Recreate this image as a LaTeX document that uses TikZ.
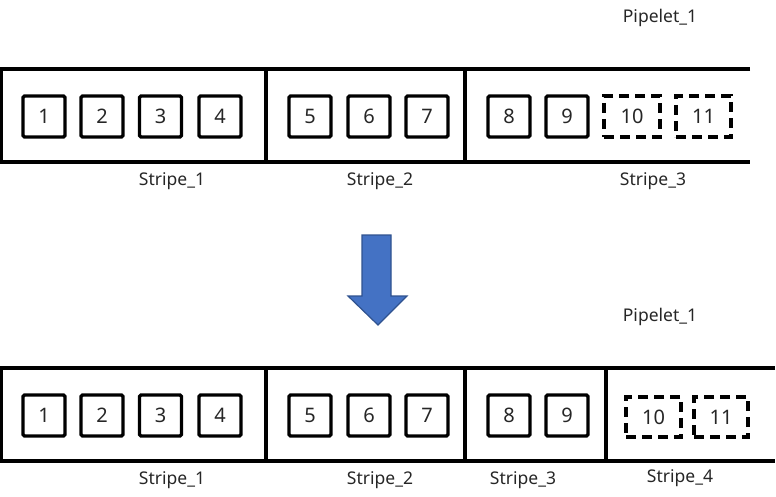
\documentclass[tikz,border=0pt]{standalone}
\usepackage{fontspec}
\setmainfont{Noto Sans}
\definecolor{arrowfill}{HTML}{4472C4}
\definecolor{arrowline}{HTML}{2F528F}
\begin{document}
\begin{tikzpicture}[x=1pt,y=-1pt,
  cell/.style={draw,line width=3.2pt,rounded corners=1.5pt,minimum width=42pt,minimum height=41pt,inner sep=0pt,font=\fontsize{20}{20}\selectfont,text=black!85},
  dcell/.style={cell,dash pattern=on 10pt off 6pt,rounded corners=0pt},
  lbl/.style={font=\fontsize{17.5}{17.5}\selectfont,text=black!85,inner sep=0pt},
  band/.style={line width=3.2pt}]
\useasboundingbox (0,0) rectangle (776,497);
% ---------- top ----------
\draw[band] (750,69) -- (1,69) -- (1,162) -- (750,162);
\draw[band] (266,69) -- (266,162);
\draw[band] (465,69) -- (465,162);
\node[cell] (t1) at (44,116.5) {1};
\node[cell] (t2) at (102,116.5) {2};
\node[cell] (t3) at (160.5,116.5) {3};
\node[cell] (t4) at (220,116.5) {4};
\node[cell] (t5) at (310,116.5) {5};
\node[cell] (t6) at (369,116.5) {6};
\node[cell] (t7) at (427,116.5) {7};
\node[cell] (t8) at (509,116.5) {8};
\node[cell] (t9) at (567,116.5) {9};
\node[dcell,minimum width=56pt] (t10) at (632,116.5) {10};
\node[dcell,minimum width=55pt] (t11) at (703.5,116.5) {11};
\node[lbl] (tp) at (660,18) {Pipelet\_1};
\node[lbl] (ts1) at (172,181) {Stripe\_1};
\node[lbl] (ts2) at (380,181) {Stripe\_2};
\node[lbl] (ts3) at (653,181) {Stripe\_3};
% ---------- arrow ----------
\draw[fill=arrowfill,draw=arrowline,line width=1.2pt,line join=miter]
  (362,235) -- (391,235) -- (391,296) -- (407,296) -- (378,325) -- (348,296) -- (362,296) -- cycle;
% ---------- bottom ----------
\draw[band] (775,368) -- (1,368) -- (1,461) -- (775,461);
\draw[band] (266,368) -- (266,461);
\draw[band] (465,368) -- (465,461);
\draw[band] (606,368) -- (606,461);
\node[cell] (b1) at (44,415.5) {1};
\node[cell] (b2) at (102,415.5) {2};
\node[cell] (b3) at (160.5,415.5) {3};
\node[cell] (b4) at (220,415.5) {4};
\node[cell] (b5) at (310,415.5) {5};
\node[cell] (b6) at (369,415.5) {6};
\node[cell] (b7) at (427,415.5) {7};
\node[cell] (b8) at (509,415.5) {8};
\node[cell] (b9) at (567,415.5) {9};
\node[dcell,minimum width=55pt,minimum height=40pt] (b10) at (653.5,417) {10};
\node[dcell,minimum width=54pt,minimum height=40pt] (b11) at (721,417) {11};
\node[lbl] (bp) at (660,317) {Pipelet\_1};
\node[lbl] (bs1) at (172,480) {Stripe\_1};
\node[lbl] (bs2) at (380,480) {Stripe\_2};
\node[lbl] (bs3) at (523,480) {Stripe\_3};
\node[lbl] (bs4) at (680,478) {Stripe\_4};
\end{tikzpicture}
\end{document}
